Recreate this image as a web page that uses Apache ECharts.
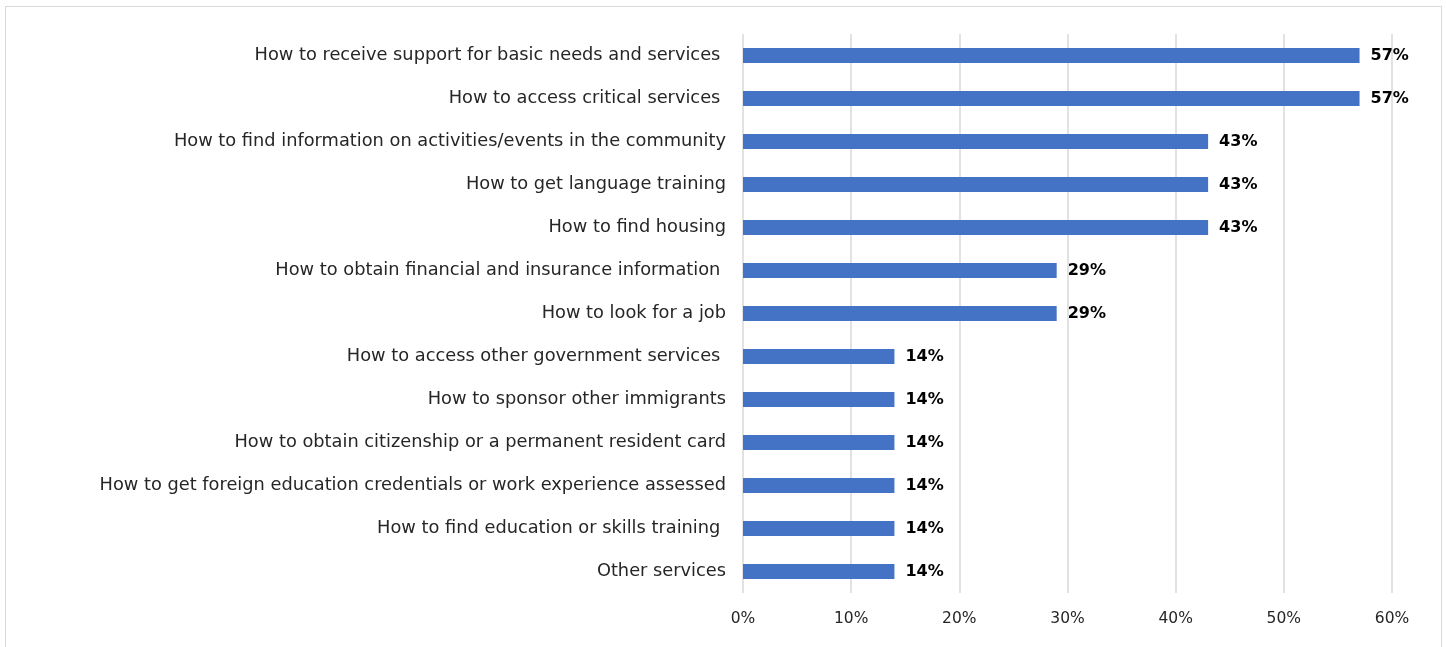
<!DOCTYPE html>
<html>
<head>
<meta charset="utf-8">
<script src="https://cdn.jsdelivr.net/npm/echarts@6/dist/echarts.min.js"></script>
<style>
  html, body { margin: 0; padding: 0; background: #ffffff; }
  #frame { position: absolute; left: 5px; top: 6px; width: 1437px; height: 650px; border: 1px solid #d9d9d9; box-sizing: border-box; }
  #chart { position: absolute; left: 0; top: 0; width: 1447px; height: 647px; }
</style>
</head>
<body>
<div id="frame"></div>
<div id="chart"></div>
<script>
// Topics, listed top to bottom
const categories = [
  "How to receive support for basic needs and services ",
  "How to access critical services ",
  "How to find information on activities/events in the community",
  "How to get language training",
  "How to find housing",
  "How to obtain financial and insurance information ",
  "How to look for a job",
  "How to access other government services ",
  "How to sponsor other immigrants",
  "How to obtain citizenship or a permanent resident card",
  "How to get foreign education credentials or work experience assessed",
  "How to find education or skills training ",
  "Other services"
];
// Share of respondents, percent
const values = [57, 57, 43, 43, 43, 29, 29, 14, 14, 14, 14, 14, 14];
const xTicks = [0, 10, 20, 30, 40, 50, 60];

const fontFamily = "'DejaVu Sans', sans-serif";
const chart = echarts.init(document.getElementById('chart'), null, { renderer: 'canvas' });

chart.setOption({
  animation: false,
  grid: { left: 743, right: 55, top: 34, bottom: 54, containLabel: false },
  xAxis: {
    type: 'value',
    min: xTicks[0],
    max: xTicks[xTicks.length - 1],
    interval: 10,
    axisLine: { show: false },
    axisTick: { show: false },
    splitLine: { show: true, lineStyle: { color: '#d9d9d9', width: 1.5 } },
    axisLabel: { formatter: v => v + '%', color: '#262626', fontSize: 15.5, fontFamily, margin: 18 }
  },
  yAxis: {
    type: 'category',
    inverse: true,
    data: categories,
    axisLine: { show: false },
    axisTick: { show: false },
    axisLabel: { color: '#262626', fontSize: 17.8, fontFamily, margin: 17 }
  },
  series: [{
    type: 'bar',
    data: values,
    barWidth: 15,
    itemStyle: { color: '#4472C4' },
    label: {
      show: true,
      position: 'right',
      distance: 11,
      formatter: p => p.value + '%',
      color: '#000000',
      fontWeight: 'bold',
      fontSize: 16,
      fontFamily
    }
  }]
});
</script>
</body>
</html>
